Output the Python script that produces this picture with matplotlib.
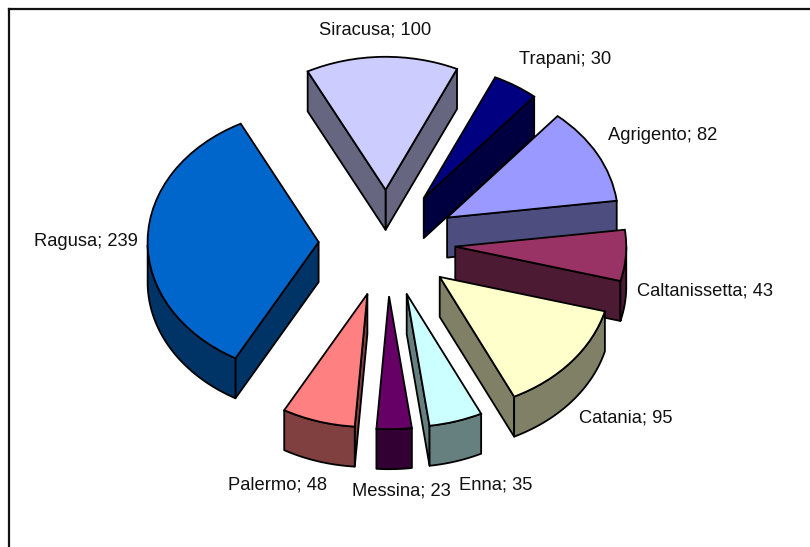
import numpy as np
import matplotlib
matplotlib.use('Agg')
import matplotlib.pyplot as plt
from matplotlib.colors import to_rgb
from matplotlib.lines import Line2D
from matplotlib.patches import Polygon

# valeurs du graphique
provinces = ['Siracusa', 'Trapani', 'Agrigento', 'Caltanissetta', 'Catania',
             'Enna', 'Messina', 'Palermo', 'Ragusa']
valeurs = [100, 30, 82, 43, 95, 35, 23, 48, 239]
couleurs = ['#CCCCFF', '#000080', '#9999FF', '#993366', '#FFFFCC',
            '#CCFFFF', '#660066', '#FF8080', '#0066CC']

# centre des etiquettes, en pixels de l'image
label_x = [375, 565, 663, 705, 626, 496, 401, 277, 86]
label_y = [30, 60, 136, 291, 418, 485, 491, 485, 241]

W, H = 810, 547
CX, CY = 387, 243    # centre du camembert
RX, RY = 171, 133    # demi-axes de l'ellipse
EPAISSEUR = 40 / RY  # hauteur du cylindre
LW = 1.3

plt.rcParams['font.family'] = ['Liberation Sans', 'DejaVu Sans']

fig = plt.figure(figsize=(W / 100, H / 100), dpi=100)
ax = fig.add_axes([0, 0, 1, 1])

wedges, _ = ax.pie(valeurs, colors=couleurs, explode=[0.4] * len(valeurs),
                   startangle=91.2 + 180 * valeurs[0] / sum(valeurs),
                   counterclock=False,
                   wedgeprops={'edgecolor': 'black', 'linewidth': LW})
ax.set_aspect('auto')
ax.set_xlim(-CX / RX, (W - CX) / RX)
ax.set_ylim((CY - H) / RY, CY / RY)


def face(points, couleur, z):
    # une face laterale : le contour et sa copie decalee vers le bas
    points = np.array(points)
    bas = points[::-1] - [0, EPAISSEUR]
    ax.add_patch(Polygon(np.vstack([points, bas]), closed=True, facecolor=couleur,
                         edgecolor='black', linewidth=LW, joinstyle='round', zorder=z))


# on dessine les parts de l'arriere vers l'avant, dans l'ordre des valeurs
for i, w in enumerate(wedges):
    z = 2 + 2 * i
    w.set_zorder(z + 1)
    sombre = tuple(c * 0.5 for c in to_rgb(couleurs[i]))
    cx, cy = w.center
    t1, t2 = np.radians(w.theta1), np.radians(w.theta2)
    # faces radiales visibles
    if np.cos(t1) > 0:
        face([(cx, cy), (cx + np.cos(t1), cy + np.sin(t1))], sombre, z)
    if np.cos(t2) < 0:
        face([(cx, cy), (cx + np.cos(t2), cy + np.sin(t2))], sombre, z)
    # face courbe : seulement la moitie basse de l'arc
    t = np.linspace(t1, t2, 80)
    t = t[np.sin(t) < 0]
    if len(t) > 1:
        face(np.column_stack([cx + np.cos(t), cy + np.sin(t)]), sombre, z)

for nom, val, x, y in zip(provinces, valeurs, label_x, label_y):
    fig.text(x / W, 1 - y / H, f'{nom}; {val}', ha='center', va='center',
             fontsize=13.2, color='#111111')

# cadre du graphique, coupe a droite et en bas
fig.add_artist(Line2D([9 / W, 9 / W], [0, 1 - 9 / H], color='#111111', lw=1.6))
fig.add_artist(Line2D([9 / W, 1], [1 - 9 / H, 1 - 9 / H], color='#111111', lw=1.6))

fig.savefig('out.png', dpi=100)
